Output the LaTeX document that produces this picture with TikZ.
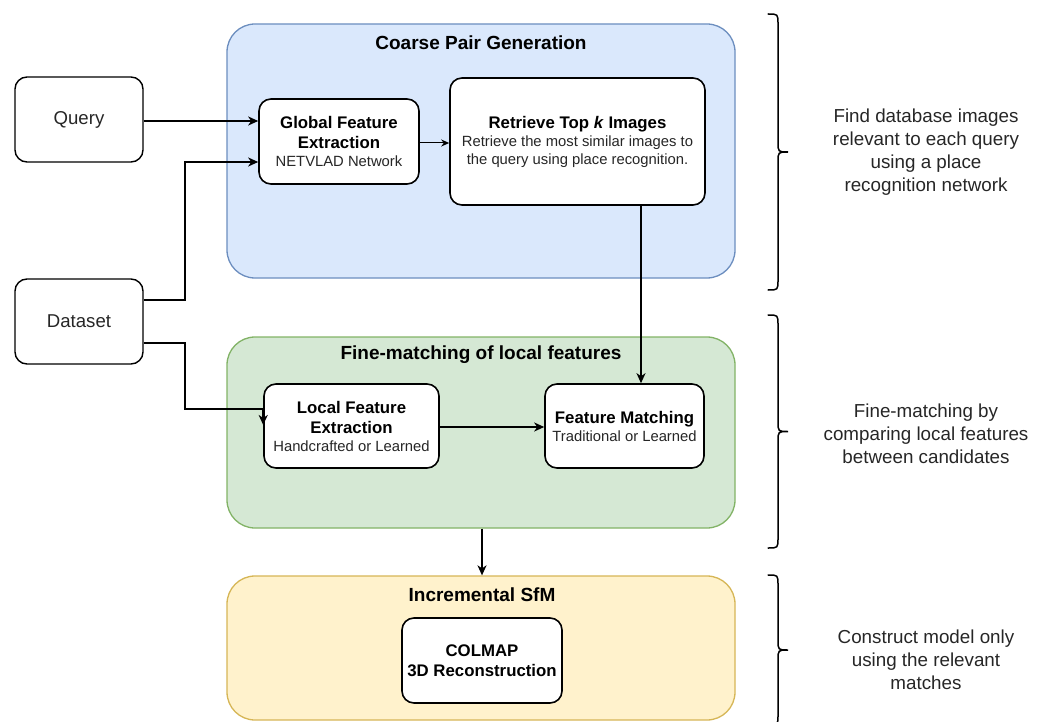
\documentclass[tikz,border=0pt]{standalone}
\usepackage{fontspec}
\setmainfont{Liberation Sans}
\usetikzlibrary{arrows.meta}
\definecolor{bluefill}{HTML}{DAE8FC}
\definecolor{blueline}{HTML}{6C8EBF}
\definecolor{greenfill}{HTML}{D5E8D4}
\definecolor{greenline}{HTML}{82B366}
\definecolor{yellowfill}{HTML}{FFF2CC}
\definecolor{yellowline}{HTML}{D6B656}
\definecolor{txt}{HTML}{262626}
\newcommand\subt[1]{{\fontsize{14.8}{18}\selectfont\mdseries\color{txt}#1}}
\newcommand\mybrace[3]{%
  \draw[bracket] (768,#1) .. controls (778,#1) .. ({778},{#1+10}) -- ({778},{#2-10})
    .. controls (778,#2) .. (788,#2) .. controls (778,#2) .. ({778},{#2+10})
    -- ({778},{#3-10}) .. controls (778,#3) .. (768,#3);}
\begin{document}
\begin{tikzpicture}[x=1pt,y=-1pt,
  group/.style={draw, line width=1.3pt, rounded corners=28pt, inner sep=0pt},
  box/.style={draw=black, fill=white, line width=1.6pt, rounded corners=12pt, inner sep=0pt,
    align=center, text=black, font=\bfseries\fontsize{16.8}{20}\selectfont},
  side/.style={draw=black, fill=white, line width=1.4pt, rounded corners=12pt, inner sep=0pt,
    align=center, text=txt, font=\fontsize{18.6}{22}\selectfont,
    minimum width=128pt, minimum height=85pt},
  gtitle/.style={font=\bfseries\fontsize{19}{23}\selectfont, text=black, inner sep=0pt},
  note/.style={align=center, text=txt, font=\fontsize{18.8}{23}\selectfont, inner sep=0pt},
  conn/.style={line width=1.6pt, -{Stealth[length=10pt,width=9pt,inset=3pt]}},
  thinconn/.style={line width=1pt, -{Stealth[length=8pt,width=7pt,inset=2.5pt]}},
  bracket/.style={line width=1.5pt, line cap=round}
]
\useasboundingbox (0,0) rectangle (1046,722);
\clip (0,0) rectangle (1046,722);

% containers
\node[group, draw=blueline, fill=bluefill, minimum width=508pt, minimum height=254pt] (coarse) at (481,151) {};
\node[group, draw=greenline, fill=greenfill, minimum width=508pt, minimum height=191pt] (fine) at (481,432.5) {};
\node[group, draw=yellowline, fill=yellowfill, minimum width=508pt, minimum height=144pt] (sfm) at (481,648) {};

\node[gtitle] (t1) at (481,43) {Coarse Pair Generation};
\node[gtitle] (t2) at (481,355) {Fine-matching of local features};
\node[gtitle] (t3) at (482,595) {Incremental SfM};

% side boxes
\node[side] (query) at (79,119.5) {Query};
\node[side] (dataset) at (79,321.5) {Dataset};

% inner boxes
\node[box, minimum width=160pt, minimum height=85pt] (global) at (339,141.5)
  {Global Feature\\Extraction\\[-2pt]\subt{NETVLAD Network}};
\node[box, minimum width=255pt, minimum height=127pt] (retrieve) at (577.5,141.5)
  {Retrieve Top \textit{k} Images\\[-2pt]\subt{Retrieve the most similar images to}\\[-2pt]\subt{the query using place recognition.}};
\node[box, minimum width=175pt, minimum height=84pt] (local) at (351.5,426)
  {Local Feature\\Extraction\\[-2pt]\subt{Handcrafted or Learned}};
\node[box, minimum width=159pt, minimum height=84pt] (match) at (624.5,426)
  {Feature Matching\\[-2pt]\subt{Traditional or Learned}};
\node[box, minimum width=160pt, minimum height=85pt] (colmap) at (482,660.5)
  {COLMAP\\3D Reconstruction};

% connectors
\draw[conn] ([yshift=-1.5pt]query.east) -- ([yshift=-1.5pt]query.east -| global.west);
\draw[conn] ([yshift=21.5pt]dataset.east) -- ++(41,0) |- ([yshift=-20.5pt]global.west);
\draw[conn] ([yshift=-21.5pt]dataset.east) -- ++(41,0) |- ([yshift=17pt]local.west) -- ([yshift=1pt]local.west);
\draw[thinconn] ([yshift=-1.5pt]global.east) -- ([yshift=-1.5pt]global.east -| retrieve.west);
\draw[conn] ([xshift=63.5pt]retrieve.south) -- ([xshift=63.5pt]retrieve.south |- match.north);
\draw[conn] ([yshift=-1pt]local.east) -- ([yshift=-1pt]local.east -| match.west);
\draw[conn] ([xshift=1pt]fine.south) -- ([xshift=1pt]sfm.north);

% braces
\mybrace{14}{152}{290}
\mybrace{315}{431.5}{548}
\mybrace{575}{650}{725}

% notes
\node[note] (n1) at (926,152) {Find database images\\relevant to each query\\using a place\\recognition network};
\node[note] (n2) at (926,433.5) {Fine-matching by\\comparing local features\\between candidates};
\node[note] (n3) at (926,660) {Construct model only\\using the relevant\\matches};
\end{tikzpicture}
\end{document}
